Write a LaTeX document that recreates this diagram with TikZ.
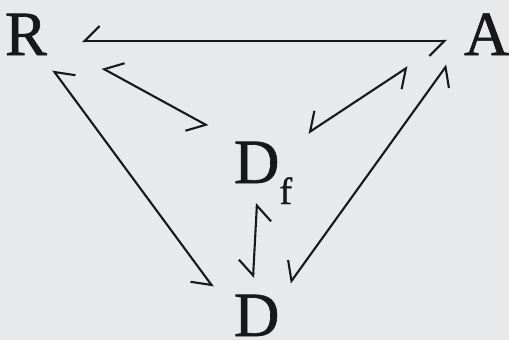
\documentclass[tikz,border=0pt]{standalone}
\usepackage{fontspec}
\setmainfont{Liberation Serif}
\newfontfamily\heavy[FakeBold=1]{Liberation Serif}
\usetikzlibrary{arrows.meta}
\definecolor{bg}{RGB}{232,233,235}
\definecolor{ink}{RGB}{24,24,26}
\begin{document}
\begin{tikzpicture}[x=1pt,y=-1pt,
  lab/.style={anchor=base west,inner sep=0pt,outer sep=0pt,text=ink,font=\heavy\fontsize{63}{63}\selectfont},
  eq/.style={draw=ink,line width=2.1pt,
    {Straight Barb[harpoon,swap,length=15pt,width=30pt]}-{Straight Barb[harpoon,swap,length=15pt,width=30pt]}}]
\fill[bg] (0,0) rectangle (509,340);
\useasboundingbox (0,0) rectangle (509,340);
\node[lab] (R) at (5,55) {R};
\node[lab] (A) at (464,55) {A};
\node[lab] (Df) at (234,183) {D\raisebox{-21pt}{\fontsize{38}{38}\selectfont f}};
\node[lab] (D) at (234,336) {D};
% connector end points
\coordinate (ra1) at (82,41);   \coordinate (ra2) at (447,41);
\coordinate (rf1) at (102,68);  \coordinate (rf2) at (208,126);
\coordinate (rd1) at (53,70);   \coordinate (rd2) at (213,287);
\coordinate (fa1) at (308,133); \coordinate (fa2) at (408,67);
\coordinate (ad1) at (447,65);  \coordinate (ad2) at (290,283);
\coordinate (fd1) at (257,203); \coordinate (fd2) at (253,278);
\draw[eq] (ra1) -- (ra2);
\draw[eq] (rf1) -- (rf2);
\draw[eq] (rd1) -- (rd2);
\draw[eq] (fa1) -- (fa2);
\draw[eq] (ad1) -- (ad2);
\draw[eq] (fd1) -- (fd2);
\end{tikzpicture}
\end{document}
